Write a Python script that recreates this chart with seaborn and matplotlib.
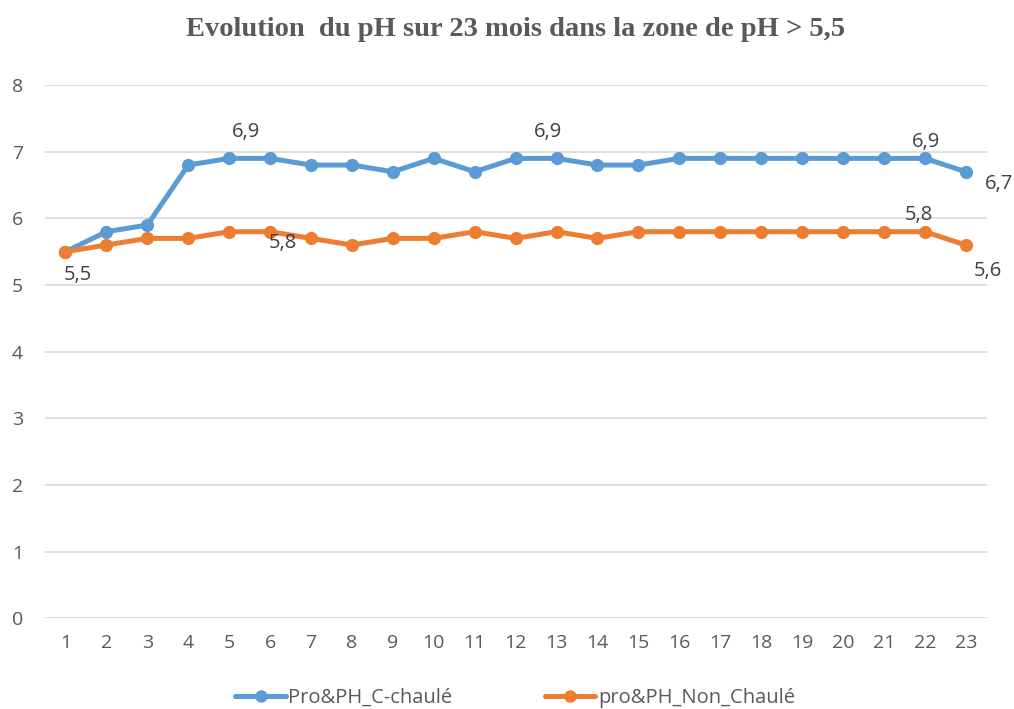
import matplotlib
matplotlib.use("Agg")
import matplotlib.pyplot as plt
import seaborn as sns
import pandas as pd

months = list(range(1, 24))
chaule = [5.5, 5.8, 5.9, 6.8, 6.9, 6.9, 6.8, 6.8, 6.7, 6.9, 6.7, 6.9,
          6.9, 6.8, 6.8, 6.9, 6.9, 6.9, 6.9, 6.9, 6.9, 6.9, 6.7]
non_chaule = [5.5, 5.6, 5.7, 5.7, 5.8, 5.8, 5.7, 5.6, 5.7, 5.7, 5.8, 5.7,
              5.8, 5.7, 5.8, 5.8, 5.8, 5.8, 5.8, 5.8, 5.8, 5.8, 5.6]
series_names = ["Pro&PH_C-chaulé", "pro&PH_Non_Chaulé"]
y_ticks = list(range(0, 9))
title = "Evolution  du pH sur 23 mois dans la zone de pH > 5,5"

df = pd.concat([
    pd.DataFrame({"mois": months, "pH": chaule, "serie": series_names[0]}),
    pd.DataFrame({"mois": months, "pH": non_chaule, "serie": series_names[1]}),
])

sns.set_theme(style="white")
plt.rcParams["font.family"] = ["Open Sans", "DejaVu Sans"]

text_color = "#595959"
palette = {series_names[0]: "#5B9BD5", series_names[1]: "#ED7D31"}

fig = plt.figure(figsize=(10.14, 7.09), dpi=100)
ax = fig.add_axes([0.0444, 0.128, 0.929, 0.752])

sns.lineplot(data=df, x="mois", y="pH", hue="serie", palette=palette,
             marker="o", markersize=9.5, markeredgewidth=0, linewidth=3.6,
             ax=ax, legend=False)

ax.set_xlim(0.5, 23.52)
ax.set_ylim(0, 8)
ax.set_yticks(y_ticks)
ax.set_xticks(months)
ax.yaxis.grid(True, color="#D9D9D9", linewidth=1.2)
ax.xaxis.grid(False)
for s in ax.spines.values():
    s.set_visible(False)
ax.set_xlabel("")
ax.set_ylabel("")
ax.tick_params(axis="both", colors=text_color, labelsize=14, length=0)
ax.tick_params(axis="y", pad=24)
ax.tick_params(axis="x", pad=11)
for lab in ax.get_yticklabels():
    lab.set_horizontalalignment("left")

def fmt(v):
    return f"{v:.1f}".replace(".", ",")

lab_kw = dict(fontsize=14.5, color="#404040", textcoords="offset points",
              ha="center", va="center")
# (month index, x offset, y offset) in points for the value labels
blue_labels = [(4, 12, 19), (12, -6, 19), (21, 1, 12), (22, 24, -9)]
orange_labels = [(0, 9, -17), (5, 9, -8), (21, -4, 12), (22, 16, -19)]
for values, spots in [(chaule, blue_labels), (non_chaule, orange_labels)]:
    for i, dx, dy in spots:
        ax.annotate(fmt(values[i]), (months[i], values[i]), xytext=(dx, dy),
                    **lab_kw)

fig.text(0.508, 0.958, title, ha="center", va="center", fontsize=20.5,
         fontweight="bold", family=["Liberation Serif", "DejaVu Serif"],
         color=text_color)

handles = [plt.Line2D([], [], color=palette[n], marker="o", markersize=9,
                      markeredgewidth=0, linewidth=3.6) for n in series_names]
fig.legend(handles, series_names, loc="center", bbox_to_anchor=(0.508, 0.016),
           ncol=2, frameon=False, fontsize=14.5, labelcolor=text_color,
           handlelength=2.5, handletextpad=0.12, columnspacing=4.6)

fig.savefig("out.png", dpi=100)
